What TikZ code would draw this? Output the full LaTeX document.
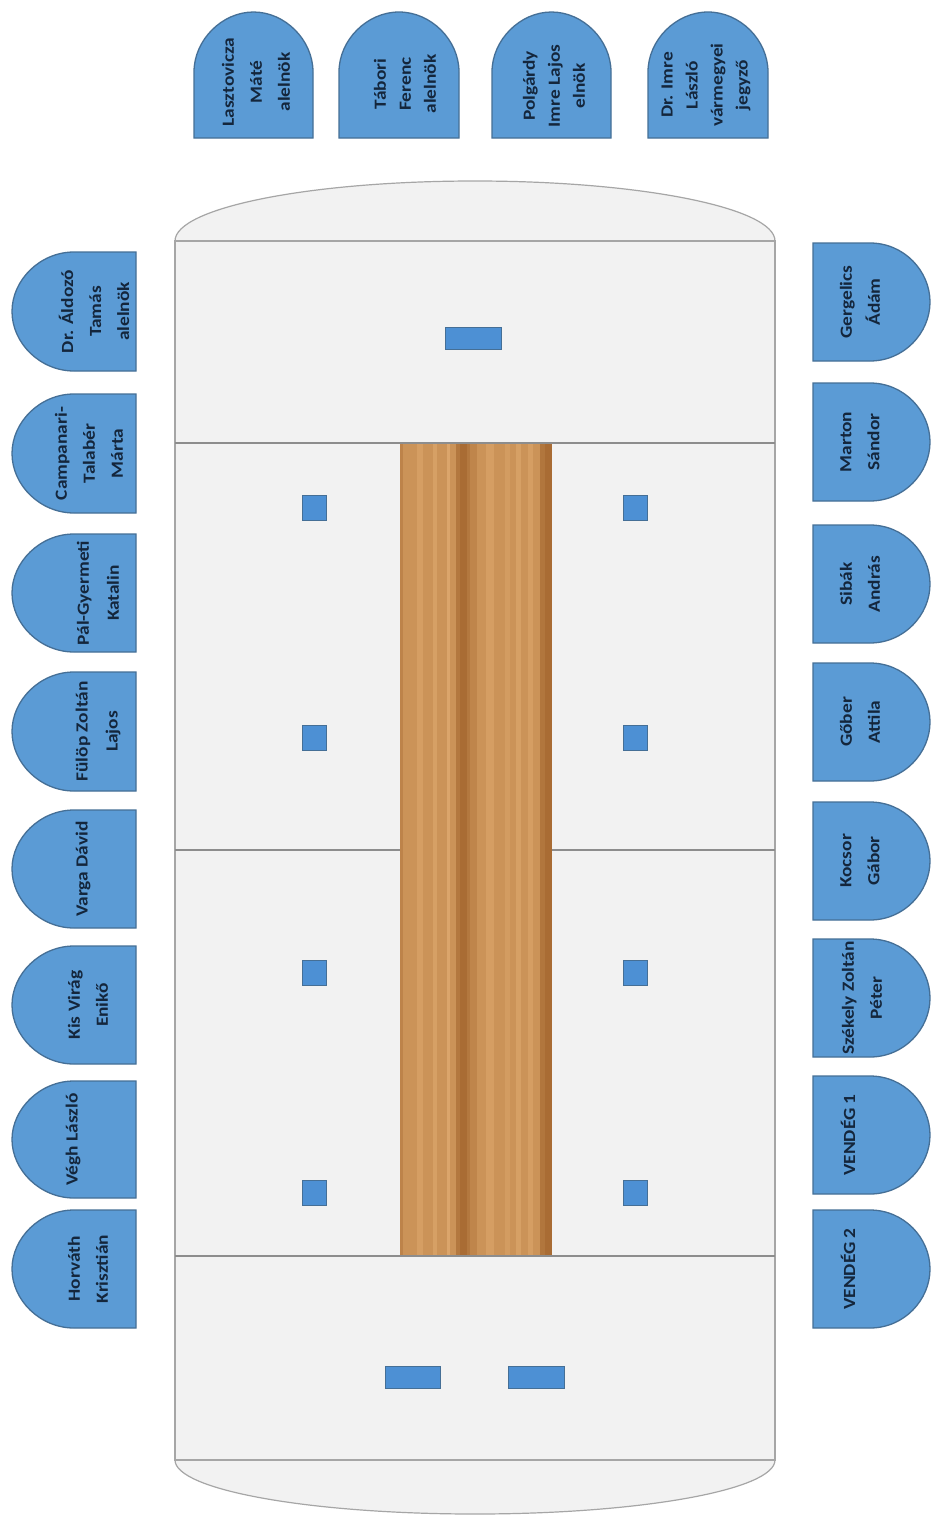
\documentclass[tikz,border=0pt]{standalone}
\usepackage{fontspec}
\setmainfont{Carlito}[BoldFont=Carlito Bold,BoldFeatures={FakeStretch=1.14}]
\definecolor{seatfill}{HTML}{5B9BD5}
\definecolor{seatline}{HTML}{456F96}
\definecolor{boardfill}{HTML}{F2F2F2}
\definecolor{boardline}{HTML}{A6A6A6}
\definecolor{seatink}{HTML}{14263C}
\definecolor{micfill}{HTML}{4D90D4}
\definecolor{woodbase}{HTML}{CB9358}
\definecolor{wooddark}{HTML}{A96C34}
\definecolor{woodlight}{HTML}{DBA56B}
\tikzset{
  seatshape/.style={draw=seatline,fill=seatfill,line width=1.3pt},
  seattext/.style={rotate=90,align=center,text=seatink,font=\fontsize{17}{28}\selectfont\bfseries,inner sep=0pt},
  toptext/.style={seattext,font=\fontsize{17}{25}\selectfont\bfseries},
  boardpart/.style={draw=boardline,fill=boardfill,line width=1.2pt},
  boardrule/.style={draw=boardline!85!black,line width=1.2pt},
  mic/.style={draw=seatline,fill=micfill,line width=1pt}
}
\newcommand{\topseat}[6]{% name, x1, x2, text x, text y, text
  \draw[seatshape] (#2,138) -- (#2,72) .. controls (#2,40) and ({#2+28},12) .. ({(#2+#3)/2},12)
     .. controls ({#3-28},12) and (#3,40) .. (#3,72) -- (#3,138) -- cycle;
  \node[toptext] (#1) at (#4,#5) {#6};}
\newcommand{\leftseat}[5]{% name, y1, y2, text x, text
  \draw[seatshape] (136,#2) -- (74,#2) .. controls (40,#2) and (12,{#2+28}) .. (12,{(#2+#3)/2})
     .. controls (12,{#3-28}) and (40,#3) .. (74,#3) -- (136,#3) -- cycle;
  \node[seattext] (#1) at (#4,{(#2+#3)/2}) {#5};}
\newcommand{\rightseat}[5]{% name, y1, y2, text x, text
  \draw[seatshape] (813,#2) -- (870,#2) .. controls (904,#2) and (930,{#2+28}) .. (930,{(#2+#3)/2})
     .. controls (930,{#3-28}) and (904,#3) .. (870,#3) -- (813,#3) -- cycle;
  \node[seattext] (#1) at (#4,{(#2+#3)/2}) {#5};}
\begin{document}
\begin{tikzpicture}[x=1pt,y=-1pt]
\useasboundingbox (0,0) rectangle (930,1515);
\fill[white] (0,0) rectangle (930,1515);
% board
\draw[boardpart] (175,241) arc[start angle=180,end angle=360,x radius=300,y radius=60] -- cycle;
\draw[boardpart] (175,1460) arc[start angle=180,end angle=0,x radius=300,y radius=54] -- cycle;
\draw[boardpart] (175,241) rectangle (775,1460);
% table
\fill[woodbase] (400,443) rectangle (552,1256);
\foreach \a/\b/\c in {400/403/wooddark!40!woodbase,417/423/woodlight!60!woodbase,433/437/woodlight!70!woodbase,
  447/450/woodlight,
  456/470/wooddark!70!woodbase,460/467/wooddark,470/477/wooddark!35!woodbase,
  486/494/woodlight!60!woodbase,505/510/woodlight!50!woodbase,516/521/woodlight!70!woodbase,528/533/woodlight!60!woodbase,
  540/552/wooddark!75!woodbase,545/552/wooddark}
  {\fill[\c] (\a,443) rectangle (\b,1256);}
% rules
\draw[boardrule] (175,443) -- (775,443);
\draw[boardrule] (175,850) -- (400,850);
\draw[boardrule] (552,850) -- (775,850);
\draw[boardrule] (175,1256) -- (775,1256);
% small blue markers
\foreach \nm/\px/\py in {ma/302/495,mb/623/495,mc/302/725,md/623/725,me/302/960,mf/623/960,mg/302/1180,mh/623/1180}
  {\draw[mic] (\px,\py) rectangle ++(24,25);}
\draw[mic] (445,327) rectangle (501,349);
\draw[mic] (385,1366) rectangle (440,1388);
\draw[mic] (508,1366) rectangle (564,1388);
% top seats
\topseat{t1}{194}{313}{256}{82}{Lasztovicza\\[3pt]Máté\\[3pt]alelnök}
\topseat{t2}{339}{459}{405}{84}{Tábori\\Ferenc\\alelnök}
\topseat{t3}{492}{611}{554}{86}{Polgárdy\\Imre Lajos\\elnök}
\topseat{t4}{648}{768}{706}{85}{Dr. Imre\\László\\vármegyei\\jegyző}
% left seats
\leftseat{l1}{252}{371}{94}{Dr. Áldozó\\Tamás\\alelnök}
\leftseat{l2}{394}{513}{89}{Campanari-\\Talabér\\Márta}
\leftseat{l3}{534}{652}{98}{Pál-Gyermeti\\[2pt]Katalin}
\leftseat{l4}{672}{791}{98}{Fülöp Zoltán\\[2pt]Lajos}
\leftseat{l5}{810}{928}{83}{Varga Dávid}
\leftseat{l6}{946}{1064}{88}{Kis Virág\\Enikő}
\leftseat{l7}{1081}{1198}{73}{Végh László}
\leftseat{l8}{1210}{1328}{88}{Horváth\\Krisztián}
% right seats
\rightseat{r1}{243}{361}{860}{Gergelics\\Ádám}
\rightseat{r2}{383}{501}{860}{Marton\\Sándor}
\rightseat{r3}{525}{643}{860}{Sibák\\András}
\rightseat{r4}{663}{781}{860}{Gőber\\Attila}
\rightseat{r5}{802}{920}{860}{Kocsor\\Gábor}
\rightseat{r6}{939}{1057}{862}{Székely Zoltán\\Péter}
\rightseat{r7}{1076}{1194}{848}{VENDÉG 1}
\rightseat{r8}{1210}{1328}{848}{VENDÉG 2}
\end{tikzpicture}
\end{document}
